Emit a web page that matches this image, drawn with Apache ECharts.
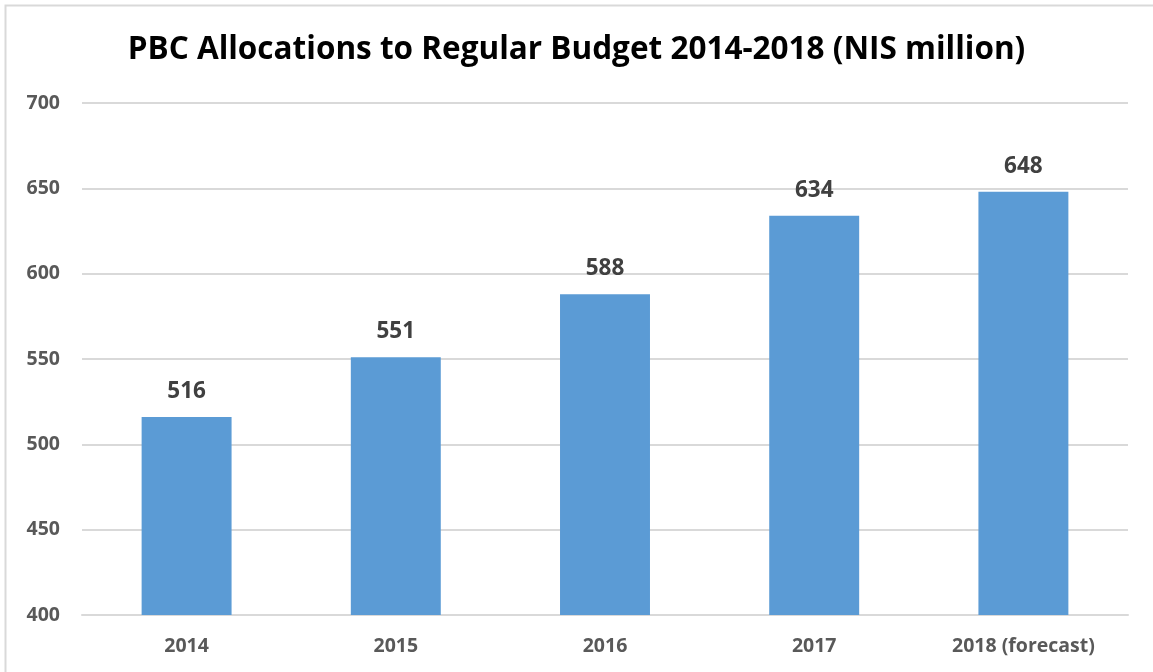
<!DOCTYPE html>
<html>
<head>
<meta charset="utf-8">
<script src="https://cdn.jsdelivr.net/npm/echarts@6/dist/echarts.min.js"></script>
<style>
  html, body { margin: 0; padding: 0; background: #fff; }
  #main { width: 1153px; height: 672px; }
</style>
</head>
<body>
<div id="main"></div>
<script>
// data
const categories = ['2014', '2015', '2016', '2017', '2018 (forecast)'];
const allocations = [516, 551, 588, 634, 648];
const yTicks = [400, 450, 500, 550, 600, 650, 700];

const myChart = echarts.init(document.getElementById('main'));
myChart.setOption({
  backgroundColor: '#fff',
  textStyle: { fontFamily: 'Open Sans' },
  title: {
    text: 'PBC Allocations to Regular Budget 2014-2018 (NIS million)',
    left: 'center',
    top: 29,
    textStyle: { fontSize: 31.5, fontWeight: 'bold', color: '#000', fontFamily: 'Open Sans' }
  },
  graphic: [{
    type: 'rect',
    shape: { x: 5.5, y: 5.5, width: 1160, height: 680 },
    style: { fill: 'none', stroke: '#D9D9D9', lineWidth: 2 },
    silent: true
  }],
  grid: { left: 82, right: 25, top: 103, bottom: 57 },
  xAxis: {
    type: 'category',
    data: categories,
    axisLine: { show: true, lineStyle: { color: '#D9D9D9', width: 2 } },
    axisTick: { show: false },
    axisLabel: { color: '#595959', fontSize: 19.5, fontWeight: 'bold', margin: 21 }
  },
  yAxis: {
    type: 'value',
    min: yTicks[0],
    max: yTicks[yTicks.length - 1],
    interval: 50,
    axisLine: { show: false },
    axisTick: { show: false },
    splitLine: { lineStyle: { color: '#D9D9D9', width: 2 } },
    axisLabel: { color: '#595959', fontSize: 19.5, fontWeight: 'bold', margin: 22 }
  },
  series: [{
    type: 'bar',
    data: allocations,
    barWidth: '43%',
    itemStyle: { color: '#5B9BD5' },
    label: {
      show: true,
      position: 'top',
      distance: 14,
      color: '#404040',
      fontSize: 22.5,
      fontWeight: 'bold'
    }
  }]
});
</script>
</body>
</html>
